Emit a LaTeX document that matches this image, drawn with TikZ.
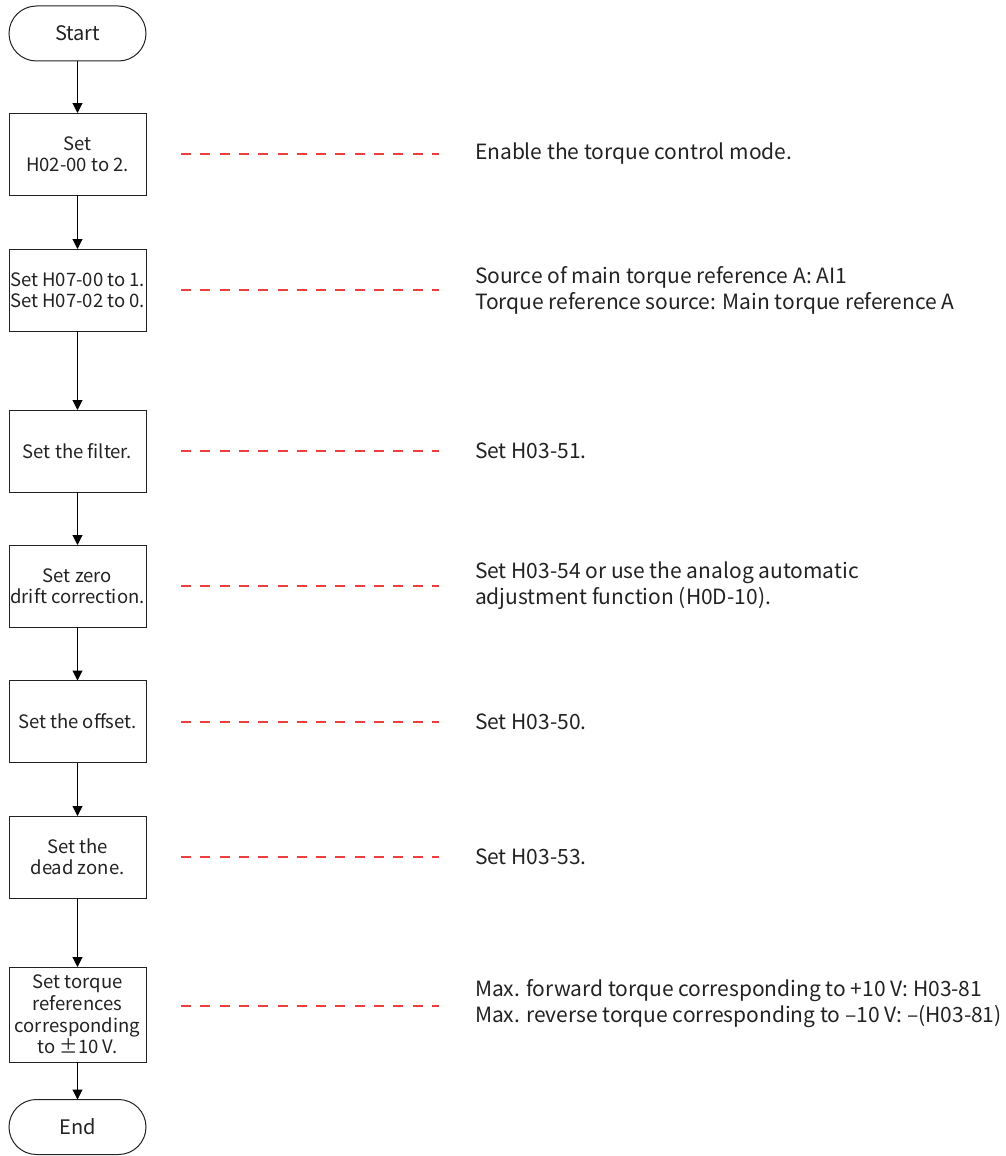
\documentclass[tikz,border=0pt]{standalone}
\usepackage{fontspec}
\setmainfont{Noto Sans CJK SC}
\usetikzlibrary{arrows.meta}
\definecolor{dashred}{RGB}{238,62,62}
\definecolor{inkgray}{RGB}{34,34,34}
\begin{document}
\begin{tikzpicture}[x=1pt,y=-1pt,
  every node/.style={inner sep=0pt, outer sep=0pt},
  procbox/.style={draw=inkgray, line width=1pt, minimum width=137pt, minimum height=82pt, align=center, text=inkgray, font=\fontsize{18.5}{21}\selectfont},
  termbox/.style={draw=inkgray, line width=1pt, minimum width=137pt, minimum height=55pt, rounded corners=27.5pt, text=inkgray, font=\fontsize{20}{24}\selectfont},
  flow/.style={draw=black, line width=1pt, -{Triangle[width=10pt,length=10pt]}},
  note/.style={anchor=west, align=left, text=inkgray, font=\fontsize{21}{26}\selectfont},
  guide/.style={draw=dashred, line width=1.4pt, dash pattern=on 10pt off 9.3pt}
]
\useasboundingbox (0,0) rectangle (1006,1156);

% flow column
\node[termbox] (start) at (77.5,33.5) {Start};
\node[procbox] (b1) at (77.5,154) {Set\\H02-00 to 2.};
\node[procbox] (b2) at (77.5,290) {Set H07-00 to 1.\\Set H07-02 to 0.};
\node[procbox] (b3) at (77.5,451) {Set the filter.};
\node[procbox] (b4) at (77.5,586) {Set zero\\drift correction.};
\node[procbox] (b5) at (77.5,721.5) {Set the offset.};
\node[procbox] (b6) at (77.5,857) {Set the\\dead zone.};
\node[procbox, minimum height=95pt, font=\fontsize{18.5}{21.7}\selectfont] (b7) at (77.5,1014.5) {Set torque\\references\\corresponding\\to ±10 V.};
\node[termbox] (end) at (77.5,1127) {End};

\draw[flow] (start) -- (b1);
\draw[flow] (b1) -- (b2);
\draw[flow] (b2) -- (b3);
\draw[flow] (b3) -- (b4);
\draw[flow] (b4) -- (b5);
\draw[flow] (b5) -- (b6);
\draw[flow] (b6) -- (b7);
\draw[flow] (b7) -- (end);

% guide lines
\coordinate (g1a) at (181,154);    \coordinate (g1b) at (439,154);
\coordinate (g2a) at (181,290);    \coordinate (g2b) at (439,290);
\coordinate (g3a) at (181,451);    \coordinate (g3b) at (439,451);
\coordinate (g4a) at (181,586);    \coordinate (g4b) at (439,586);
\coordinate (g5a) at (181,722);    \coordinate (g5b) at (439,722);
\coordinate (g6a) at (181,857);    \coordinate (g6b) at (439,857);
\coordinate (g7a) at (181,1006);   \coordinate (g7b) at (439,1006);
\draw[guide] (g1a) -- (g1b);
\draw[guide] (g2a) -- (g2b);
\draw[guide] (g3a) -- (g3b);
\draw[guide] (g4a) -- (g4b);
\draw[guide] (g5a) -- (g5b);
\draw[guide] (g6a) -- (g6b);
\draw[guide] (g7a) -- (g7b);

% notes
\node[note] (n1) at (475,154) {Enable the torque control mode.};
\node[note] (n2) at (475,290) {Source of main torque reference A: AI1\\Torque reference source: Main torque reference A};
\node[note] (n3) at (475,451) {Set H03-51.};
\node[note] (n4) at (475,586) {Set H03-54 or use the analog automatic\\adjustment function (H0D-10).};
\node[note] (n5) at (475,722) {Set H03-50.};
\node[note] (n6) at (475,857) {Set H03-53.};
\node[note] (n7) at (475,1004) {Max. forward torque corresponding to +10 V: H03-81\\Max. reverse torque corresponding to –10 V: –(H03-81)};
\end{tikzpicture}
\end{document}
